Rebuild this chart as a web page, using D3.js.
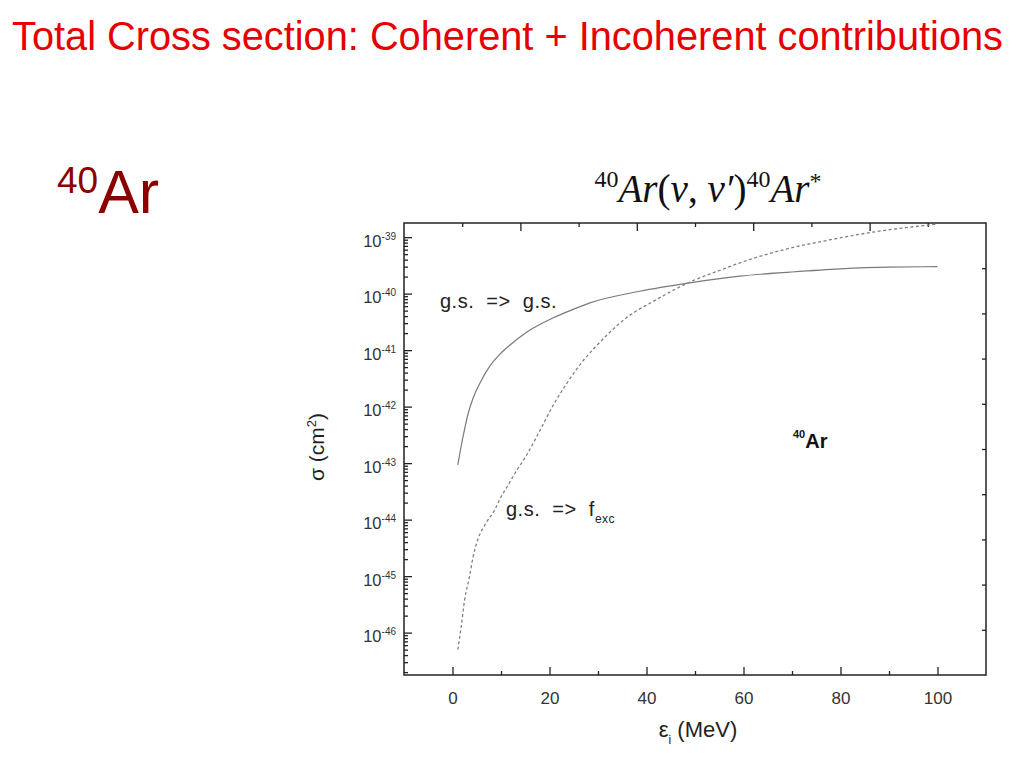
<!DOCTYPE html>
<html><head><meta charset="utf-8">
<script src="https://cdn.jsdelivr.net/npm/d3@7"></script>
<style>
body{margin:0;background:#fff;}
svg text{font-family:"Liberation Sans",Arial,sans-serif;}
</style></head><body>
<svg id="c" width="1024" height="768"></svg>
<script>
// ---- data ----
const energyGS = [1.1, 1.75, 2.37, 3.2, 4.23, 5.67, 7.73, 9.79, 11.86, 15.36, 20.7, 24.7, 28.2, 38.6, 48.9, 59.2, 69.5, 80, 90, 100];
const sigmaGS  = [9.3e-44, 1.93e-43, 3.55e-43, 7.4e-43, 1.41e-42, 2.63e-42, 5.25e-42, 8.5e-42, 1.23e-41, 2.09e-41, 3.7e-41, 5.2e-41, 6.8e-41, 1.10e-40, 1.55e-40, 2.04e-40, 2.4e-40, 2.75e-40, 2.95e-40, 3.0e-40];
const energyExc = [1.1, 1.8, 2.5, 3.5, 4.2, 5.2, 6.9, 8.7, 9.7, 11.75, 13.1, 15.2, 17.9, 20.6, 23.4, 26.8, 29.3, 35.8, 42.0, 49.6, 54.4, 61.2, 68, 77.7, 86, 100];
const sigmaExc  = [5.0e-47, 1.29e-46, 3.8e-46, 9.8e-46, 2.09e-45, 4.4e-45, 8.7e-45, 1.48e-44, 2.24e-44, 4.5e-44, 7.1e-44, 1.35e-43, 3.6e-43, 1.0e-42, 2.45e-42, 6.3e-42, 1.10e-41, 3.7e-41, 7.8e-41, 1.70e-40, 2.45e-40, 4.0e-40, 5.9e-40, 8.9e-40, 1.20e-39, 1.70e-39];
const xTickLabels = [0, 20, 40, 60, 80, 100];
const xMinorTicks = [10, 30, 50, 70, 90];
const yExponents = [-39, -40, -41, -42, -43, -44, -45, -46];

const svg = d3.select("#c");
const L = 404, R = 986, T = 223, B = 675;
const x = d3.scaleLinear().domain([-10, 110]).range([L, R]);
const y = d3.scaleLog().domain([Math.pow(10, -46.75), Math.pow(10, -38.75)]).range([B, T]);
const ink = "#222";

function fitWidth(sel, target) {
  const w = sel.node().getBBox().width;
  const fs = parseFloat(sel.attr("font-size"));
  const ratio = target / w;
  sel.attr("font-size", fs * ratio);
  sel.selectAll("tspan").each(function () {
    const t = d3.select(this);
    if (t.attr("font-size")) t.attr("font-size", parseFloat(t.attr("font-size")) * ratio);
    if (t.attr("dy")) t.attr("dy", parseFloat(t.attr("dy")) * ratio);
  });
}

// ---- slide title ----
const title = svg.append("text").attr("x", 12).attr("y", 50).attr("font-size", 32)
  .attr("fill", "#e60000").text("Total Cross section: Coherent + Incoherent contributions");
fitWidth(title, 991);

// ---- big 40Ar ----
const big = svg.append("text").attr("x", 57).attr("y", 213).attr("font-size", 61).attr("fill", "#8b0000");
big.append("tspan").attr("font-size", 37).attr("dy", -20).text("40");
big.append("tspan").attr("dy", 20).text("Ar");

// ---- chart title (math) ----
const ct = svg.append("text").attr("x", 708).attr("y", 202).attr("font-size", 36)
  .attr("text-anchor", "middle").style("font-family", "'Liberation Serif','DejaVu Serif',serif").attr("fill", "#111");
ct.append("tspan").attr("font-size", 22).attr("dy", -14).text("40");
ct.append("tspan").attr("dy", 14).attr("font-style", "italic").text("Ar");
ct.append("tspan").text("(");
ct.append("tspan").attr("font-style", "italic").text("ν");
ct.append("tspan").text(", ");
ct.append("tspan").attr("font-style", "italic").text("ν′");
ct.append("tspan").text(")");
ct.append("tspan").attr("font-size", 22).attr("dy", -14).text("40");
ct.append("tspan").attr("dy", 14).attr("font-style", "italic").text("Ar");
ct.append("tspan").attr("font-size", 22).attr("dy", -12).text("*");
fitWidth(ct, 227);

// ---- frame ----
svg.append("rect").attr("x", L).attr("y", T).attr("width", R - L).attr("height", B - T)
  .attr("fill", "none").attr("stroke", ink).attr("stroke-width", 1.5);

function styleAxis(g) {
  g.select(".domain").remove();
  g.selectAll(".tick line").attr("stroke", ink).attr("stroke-width", 1.3);
  g.selectAll(".tick text").attr("fill", "#333").style("font-family", "'Liberation Sans',Arial,sans-serif");
}

// bottom axis
svg.append("g").attr("transform", `translate(0,${B})`)
  .call(d3.axisBottom(x).tickValues(xTickLabels).tickSizeInner(-8).tickSizeOuter(0).tickPadding(17).tickFormat(d3.format("d")))
  .call(styleAxis).attr("font-size", 17);
svg.append("g").attr("transform", `translate(0,${B})`)
  .call(d3.axisBottom(x).tickValues(xMinorTicks).tickSizeInner(-4).tickSizeOuter(0).tickFormat(""))
  .call(styleAxis);

// left axis
const yMajor = yExponents.map(e => Math.pow(10, e));
const yMinor = [];
for (let e = -47; e <= -39; e++) for (let m = 2; m <= 9; m++) {
  const v = m * Math.pow(10, e);
  if (v > y.domain()[0] && v < y.domain()[1]) yMinor.push(v);
}
const gl = svg.append("g").attr("transform", `translate(${L},0)`)
  .call(d3.axisLeft(y).tickValues(yMajor).tickSizeInner(-8).tickSizeOuter(0).tickPadding(8).tickFormat(""))
  .call(styleAxis).attr("font-size", 16.5);
gl.selectAll(".tick text").attr("dy", "0.55em").each(function (d, i) {
  const t = d3.select(this);
  t.append("tspan").text("10");
  t.append("tspan").attr("font-size", 10).attr("dy", -7).text(String(yExponents[i]));
});
svg.append("g").attr("transform", `translate(${L},0)`)
  .call(d3.axisLeft(y).tickValues(yMinor).tickSizeInner(-4).tickSizeOuter(0).tickFormat(""))
  .call(styleAxis);

// top & right axes (unlabelled, 10 equal divisions)
const frac = d3.scaleLinear().domain([0, 1]);
const topMajor = [0.2, 0.4, 0.6, 0.8], topMinor = [0.1, 0.3, 0.5, 0.7, 0.9];
svg.append("g").attr("transform", `translate(0,${T})`)
  .call(d3.axisTop(frac.copy().range([L, R])).tickValues(topMajor).tickSizeInner(-8).tickSizeOuter(0).tickFormat(""))
  .call(styleAxis);
svg.append("g").attr("transform", `translate(0,${T})`)
  .call(d3.axisTop(frac.copy().range([L, R])).tickValues(topMinor).tickSizeInner(-4).tickSizeOuter(0).tickFormat(""))
  .call(styleAxis);
svg.append("g").attr("transform", `translate(${R},0)`)
  .call(d3.axisRight(frac.copy().range([B, T])).tickValues(topMajor.concat(topMinor)).tickSizeInner(-4).tickSizeOuter(0).tickFormat(""))
  .call(styleAxis);

// ---- curves ----
const line = d3.line().x(d => x(d[0])).y(d => y(d[1])).curve(d3.curveMonotoneX);
svg.append("path").datum(d3.zip(energyGS, sigmaGS)).attr("d", line)
  .attr("fill", "none").attr("stroke", "#7a7a7a").attr("stroke-width", 1.2);
svg.append("path").datum(d3.zip(energyExc, sigmaExc)).attr("d", line)
  .attr("fill", "none").attr("stroke", "#808080").attr("stroke-width", 1.3).attr("stroke-dasharray", "3,2.5");

// ---- annotations ----
svg.append("text").attr("x", 440).attr("y", 308).attr("font-size", 20).attr("letter-spacing", 0.5).attr("fill", "#222")
  .style("white-space", "pre").text("g.s.  =>  g.s.");
const fe = svg.append("text").attr("x", 506).attr("y", 516).attr("font-size", 20).attr("letter-spacing", 0.5).attr("fill", "#222").style("white-space", "pre");
fe.append("tspan").text("g.s.  =>  f");
fe.append("tspan").attr("font-size", 12).attr("dy", 7).text("exc");
const ar = svg.append("text").attr("x", 793).attr("y", 448).attr("font-size", 20).attr("font-weight", "bold").attr("fill", "#111");
ar.append("tspan").attr("font-size", 11).attr("dy", -10).text("40");
ar.append("tspan").attr("dy", 10).text("Ar");

// axis titles
const xt = svg.append("text").attr("x", 698).attr("y", 737).attr("font-size", 22).attr("text-anchor", "middle").attr("fill", "#222");
xt.append("tspan").text("ε");
xt.append("tspan").attr("font-size", 12).attr("dy", 7).text("i");
xt.append("tspan").attr("dy", -7).text(" (MeV)");
const yt = svg.append("text").attr("transform", "translate(324,447) rotate(-90)").attr("font-size", 21)
  .attr("text-anchor", "middle").attr("fill", "#222");
yt.append("tspan").text("σ (cm");
yt.append("tspan").attr("font-size", 13).attr("dy", -8).text("2");
yt.append("tspan").attr("dy", 8).text(")");
</script>
</body></html>
